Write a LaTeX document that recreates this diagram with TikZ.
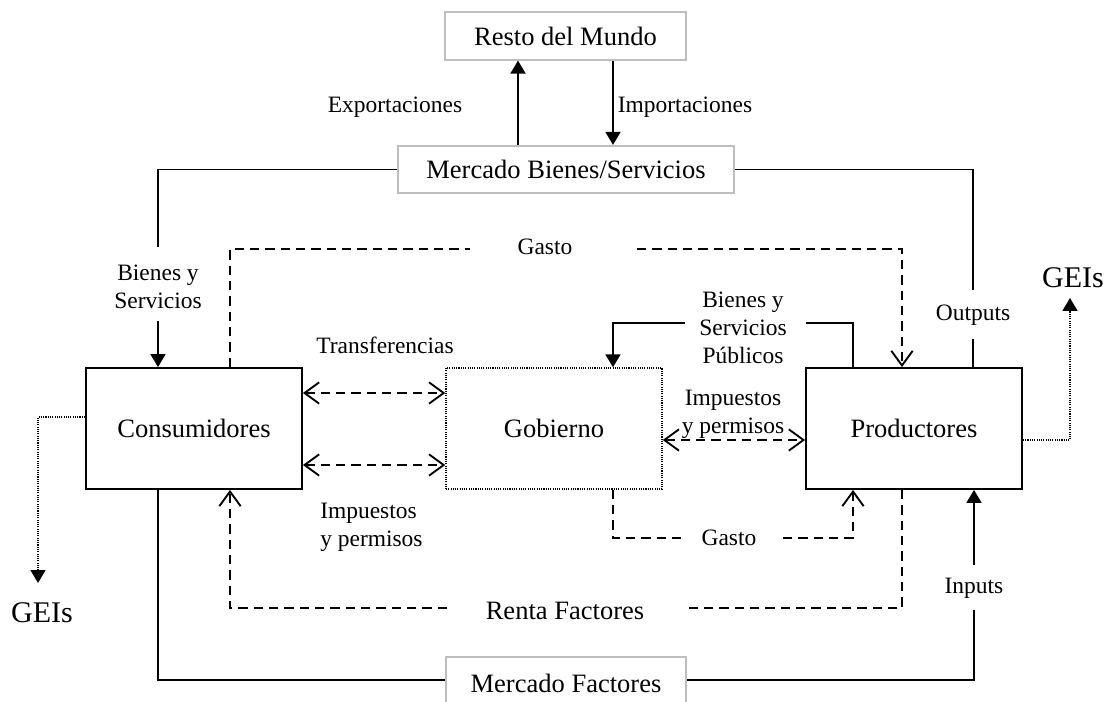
\documentclass[tikz,border=0pt]{standalone}
\usepackage{fontspec}
\setmainfont{Liberation Serif}
\usetikzlibrary{arrows.meta}
\definecolor{boxgray}{RGB}{190,190,190}
\begin{document}
\begin{tikzpicture}[x=0.75pt,y=-0.75pt,
  every node/.style={inner sep=0pt},
  box/.style={draw,line width=1.4pt,minimum width=162pt,minimum height=90.75pt,font=\fontsize{19.9}{24}\selectfont},
  dotbox/.style={box,line width=1.1pt,dash pattern=on 0.8pt off 0.9pt},
  gbox/.style={draw=boxgray,line width=1.4pt,minimum height=35.5pt,font=\fontsize{19.9}{24}\selectfont},
  lbl/.style={font=\fontsize{17.6}{21}\selectfont,align=center},
  biglbl/.style={font=\fontsize{19.9}{24}\selectfont},
  geilbl/.style={font=\fontsize{22.5}{26}\selectfont},
  sline/.style={line width=1.4pt},
  dline/.style={line width=1.4pt,dash pattern=on 7pt off 4.5pt},
  tline/.style={line width=1.1pt,dash pattern=on 0.8pt off 0.9pt},
  fill tip/.style={-{Triangle[length=9.75pt,width=11.25pt]}},
  open tip/.style={-{Straight Barb[length=11pt,width=16pt]}},
  open both/.style={{Straight Barb[length=11pt,width=16pt]}-{Straight Barb[length=11pt,width=16pt]}}
]
\useasboundingbox (0,0) rectangle (1111,702);

% boxes
\node[gbox,minimum width=180.75pt] (rdm) at (565.5,36) {Resto del Mundo};
\node[gbox,minimum width=252pt] (mbs) at (566,169.5) {Mercado Bienes/Servicios};
\node[gbox,minimum width=180pt,minimum height=39pt] (mf) at (566,683) {Mercado Factores};
\node[box] (cons) at (194,428.5) {Consumidores};
\node[dotbox] (gob) at (554,428.5) {Gobierno};
\node[box] (prod) at (914,428.5) {Productores};

% labels
\node[lbl] (lexp) at (395,107) {Exportaciones};
\node[lbl] (limp) at (685,107) {Importaciones};
\node[lbl] (lbys) at (158,287) {Bienes y\\Servicios};
\node[lbl] (lout) at (973,315) {Outputs};
\node[lbl] (lgas1) at (545,247) {Gasto};
\node[lbl] (lbsp) at (743,328) {Bienes y\\Servicios\\Públicos};
\node[lbl] (ltra) at (385,345) {Transferencias};
\node[lbl] (limp2) at (733,414) {Impuestos\\y permisos};
\node[lbl,align=left,anchor=west] (limp1) at (320,527) {Impuestos\\y permisos};
\node[lbl] (lgas2) at (729,538) {Gasto};
\node[biglbl] (lren) at (565,611) {Renta Factores};
\node[lbl] (linp) at (974,588) {Inputs};
\node[geilbl] (geil) at (42,613) {GEIs};
\node[geilbl] (geir) at (1073,278) {GEIs};

% coordinates
\coordinate (xex) at (518,0);
\coordinate (xim) at (613,0);
\coordinate (xbs) at (158,0);
\coordinate (xout) at (973,0);
\coordinate (xg1) at (230,0);
\coordinate (xg2) at (902,0);
\coordinate (xbp) at (853,0);
\coordinate (ya) at (0,393);
\coordinate (yb) at (0,465);
\coordinate (yc) at (0,440);
\coordinate (yd) at (0,417);
\coordinate (ymf) at (0,680);

% export / import
\draw[sline,fill tip] (xex |- mbs.north) -- (xex |- rdm.south);
\draw[sline,fill tip] (xim |- rdm.south) -- (xim |- mbs.north);

% goods to consumers
\draw[sline] (mbs.west) -| (158,247);
\draw[sline,fill tip] (158,321) -- (xbs |- cons.north);

% outputs
\draw[sline] (xout |- prod.north) -- (973,339);
\draw[sline] (973,290) |- (mbs.east);

% upper Gasto
\draw[dline] (xg1 |- cons.north) |- (470,249);
\draw[dline,open tip] (637,249) -| (xg2 |- prod.north);

% public goods
\draw[sline] (xbp |- prod.north) |- (806,323);
\draw[sline,fill tip] (685,323) -| (xim |- gob.north);

% transfers and taxes
\draw[dline,open both] (cons.east |- ya) -- (gob.west |- ya);
\draw[dline,open both] (cons.east |- yb) -- (gob.west |- yb);
\draw[dline,open both] (gob.east |- yc) -- (prod.west |- yc);

% lower Gasto
\draw[dline] (xim |- gob.south) |- (685,538);
\draw[dline,open tip] (783,538) -| (xbp |- prod.south);

% Renta Factores
\draw[dline] (xg2 |- prod.south) |- (688,608);
\draw[dline,open tip] (447,608) -| (xg1 |- cons.south);

% factor market
\draw[sline] (xbs |- cons.south) |- (mf.west |- ymf);
\draw[sline] (mf.east |- ymf) -| (974,610);
\draw[sline,fill tip] (974,565) -- (974,0 |- prod.south);

% emissions
\draw[tline,fill tip] (cons.west |- yd) -| (38,583);
\draw[tline,fill tip] (prod.east |- yc) -| (1070,298);
\end{tikzpicture}
\end{document}
